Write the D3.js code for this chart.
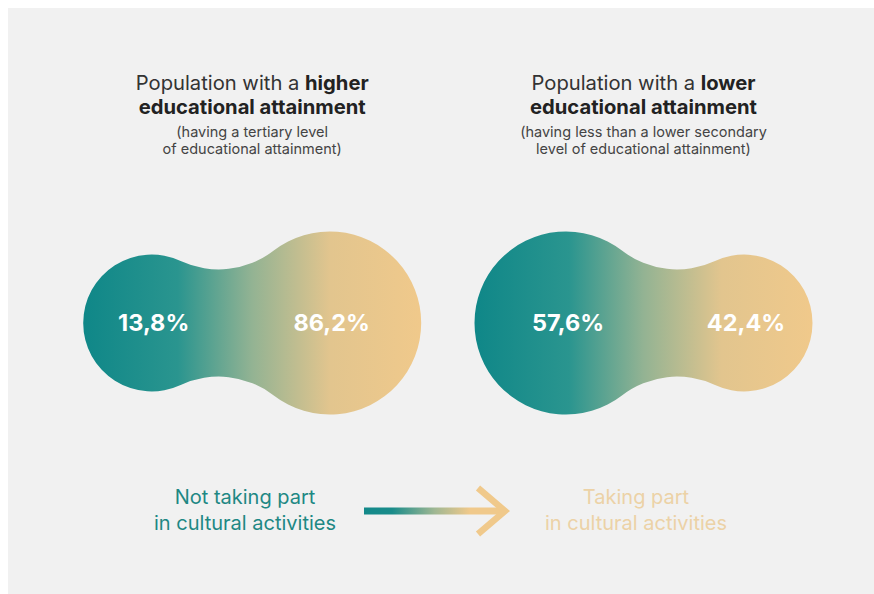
<!DOCTYPE html>
<html>
<head>
<meta charset="utf-8">
<script src="https://cdn.jsdelivr.net/npm/d3@7"></script>
<style>
  html, body { margin: 0; padding: 0; background: #ffffff; }
  svg { display: block; }
  text { font-family: Inter, "Noto Sans", sans-serif; }
</style>
</head>
<body>
<svg id="chart" width="874" height="594"></svg>
<script>
const groups = ["higher", "lower"];
const notTaking = [13.8, 57.6];
const taking = [86.2, 42.4];
const titleBold = ["higher", "lower"];
const subtitles = [
  ["(having a tertiary level", "of educational attainment)"],
  ["(having less than a lower secondary", "level of educational attainment)"]
];
const legendLeft = ["Not taking part", "in cultural activities"];
const legendRight = ["Taking part", "in cultural activities"];

const width = 874;
const height = 594;
const sand = "#f0c98b";

const svg = d3.select("#chart");

svg.append("rect")
   .attr("x", 8)
   .attr("y", 8)
   .attr("width", width - 8)
   .attr("height", height - 8)
   .attr("fill", "#f1f1f1");

const defs = svg.append("defs");

const blobGrad = defs.append("linearGradient")
                     .attr("id", "blob-grad")
                     .attr("x1", "0%").attr("x2", "100%")
                     .attr("y1", "0%").attr("y2", "0%");
[[0, "#0f8788"], [0.28, "#2a958f"], [0.5, "#93b393"], [0.73, "#e2c58e"], [1, sand]]
  .forEach(([o, c]) => blobGrad.append("stop").attr("offset", o).attr("stop-color", c));

const xScale = d3.scalePoint()
                 .domain(groups)
                 .range([240.7, 655]);

// bigger share gets the bigger bubble
const rScale = d3.scaleThreshold()
                 .domain([50])
                 .range([68.5, 91.5]);

const halfGap = 89;
const neckR = 90;
const cy = 323;

const blobPath = (x1, r1, x2, r2, y, R) => {
  const d = x2 - x1;
  const a = (d * d + (r1 + R) ** 2 - (r2 + R) ** 2) / (2 * d);
  const h = Math.sqrt((r1 + R) ** 2 - a * a);
  const px = x1 + a;
  const t1 = [x1 + a * r1 / (r1 + R), y - h * r1 / (r1 + R)];
  const t2 = [x2 + (px - x2) * r2 / (r2 + R), y - h * r2 / (r2 + R)];
  const b1 = [t1[0], 2 * y - t1[1]];
  const b2 = [t2[0], 2 * y - t2[1]];
  return `M${t1} A${R},${R} 0 0 0 ${t2} A${r2},${r2} 0 1 1 ${b2}` +
         ` A${R},${R} 0 0 0 ${b1} A${r1},${r1} 0 1 1 ${t1} Z`;
};

const data = groups.map((g, i) => ({
  group: g,
  not: notTaking[i],
  yes: taking[i],
  bold: titleBold[i],
  sub: subtitles[i]
}));

const fmt = v => d3.format(".1f")(v).replace(".", ",") + "%";

const blobs = svg.selectAll(".blob")
                 .data(data)
                 .join("g")
                 .attr("class", "blob");

blobs.append("path")
     .attr("d", d => blobPath(xScale(d.group) - halfGap, rScale(d.not),
                              xScale(d.group) + halfGap, rScale(d.yes), cy, neckR))
     .attr("fill", "url(#blob-grad)");

blobs.append("text")
     .attr("x", d => xScale(d.group) - halfGap + 2)
     .attr("y", cy)
     .attr("dy", "0.36em")
     .attr("text-anchor", "middle")
     .attr("fill", "#ffffff")
     .attr("font-weight", 700)
     .attr("font-size", 23.5)
     .text(d => fmt(d.not));

blobs.append("text")
     .attr("x", d => xScale(d.group) + halfGap + 2)
     .attr("y", cy)
     .attr("dy", "0.36em")
     .attr("text-anchor", "middle")
     .attr("fill", "#ffffff")
     .attr("font-weight", 700)
     .attr("font-size", 23.5)
     .text(d => fmt(d.yes));

const titleX = d => xScale(d.group) + (rScale(d.yes) - rScale(d.not)) / 2;

const title = blobs.append("text")
                   .attr("x", titleX)
                   .attr("y", 90)
                   .attr("text-anchor", "middle")
                   .attr("font-size", 20.2)
                   .attr("fill", "#333333");
title.append("tspan").text("Population with a ");
title.append("tspan").attr("font-weight", 700).attr("fill", "#222222").text(d => d.bold);

blobs.append("text")
     .attr("x", titleX)
     .attr("y", 113.5)
     .attr("text-anchor", "middle")
     .attr("font-size", 20.2)
     .attr("font-weight", 700)
     .attr("fill", "#222222")
     .text("educational attainment");

blobs.each(function (d) {
  d3.select(this).selectAll(".sub")
    .data(d.sub)
    .join("text")
    .attr("class", "sub")
    .attr("x", titleX(d))
    .attr("y", (s, j) => 137 + j * 17)
    .attr("text-anchor", "middle")
    .attr("font-size", 14.5)
    .attr("fill", "#444444")
    .text(s => s);
});

const legend = svg.append("g");

legend.selectAll(".leg-left")
      .data(legendLeft)
      .join("text")
      .attr("class", "leg-left")
      .attr("x", 245)
      .attr("y", (s, j) => 504 + j * 26)
      .attr("text-anchor", "middle")
      .attr("font-size", 20)
      .attr("fill", "#1e8884")
      .text(s => s);

legend.selectAll(".leg-right")
      .data(legendRight)
      .join("text")
      .attr("class", "leg-right")
      .attr("x", 636)
      .attr("y", (s, j) => 504 + j * 26)
      .attr("text-anchor", "middle")
      .attr("font-size", 20)
      .attr("fill", "#ecd2a6")
      .text(s => s);

const arrowGrad = defs.append("linearGradient")
                      .attr("id", "arrow-grad")
                      .attr("gradientUnits", "userSpaceOnUse")
                      .attr("x1", 364).attr("x2", 505)
                      .attr("y1", 0).attr("y2", 0);
[[0, "#13898a"], [0.2, "#1a8c8a"], [0.5, "#9fb793"], [0.75, sand], [1, sand]]
  .forEach(([o, c]) => arrowGrad.append("stop").attr("offset", o).attr("stop-color", c));

legend.append("line")
      .attr("x1", 364)
      .attr("x2", 503)
      .attr("y1", 511)
      .attr("y2", 511)
      .attr("stroke", "url(#arrow-grad)")
      .attr("stroke-width", 7);

legend.append("path")
      .attr("d", "M478,488 L505,511 L478,534")
      .attr("fill", "none")
      .attr("stroke", sand)
      .attr("stroke-width", 6.5)
      .attr("stroke-linejoin", "miter");
</script>
</body>
</html>
